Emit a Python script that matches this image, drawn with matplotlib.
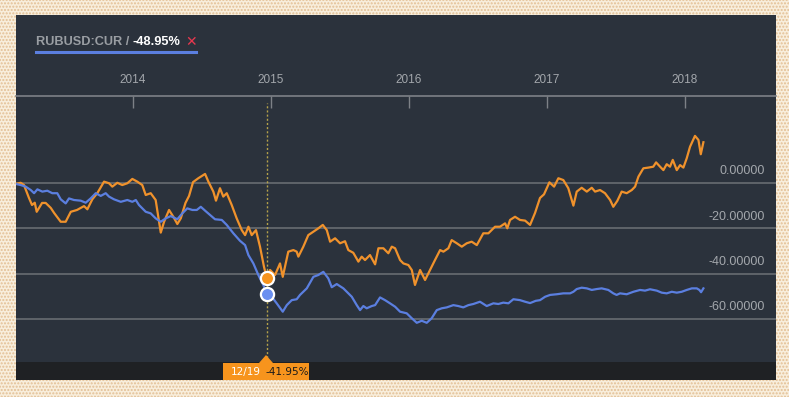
import matplotlib
matplotlib.use('Agg')
import matplotlib.pyplot as plt
from matplotlib.patches import Rectangle, Polygon

# RUBUSD:CUR 对比走势 (% change), x = fractional year
orange_t = [2013.150, 2013.186, 2013.210, 2013.246, 2013.268, 2013.288, 2013.302, 2013.341, 2013.367,
            2013.404, 2013.428, 2013.476, 2013.512, 2013.549, 2013.594, 2013.645, 2013.669, 2013.705,
            2013.741, 2013.790, 2013.826, 2013.850, 2013.886, 2013.922, 2013.959, 2013.995, 2014.031,
            2014.067, 2014.092, 2014.128, 2014.164, 2014.201, 2014.225, 2014.261, 2014.292, 2014.321,
            2014.346, 2014.380, 2014.406, 2014.435, 2014.473, 2014.522, 2014.546, 2014.582, 2014.601,
            2014.630, 2014.654, 2014.679, 2014.715, 2014.751, 2014.788, 2014.812, 2014.836, 2014.860,
            2014.891, 2014.920, 2014.949, 2014.969, 2014.993, 2015.029, 2015.065, 2015.085, 2015.125,
            2015.162, 2015.186, 2015.198, 2015.234, 2015.270, 2015.307, 2015.343, 2015.375, 2015.404,
            2015.428, 2015.464, 2015.500, 2015.536, 2015.560, 2015.596, 2015.633, 2015.657, 2015.681,
            2015.717, 2015.754, 2015.778, 2015.814, 2015.850, 2015.875, 2015.899, 2015.935, 2015.959,
            2015.995, 2016.020, 2016.043, 2016.080, 2016.116, 2016.152, 2016.188, 2016.225, 2016.249,
            2016.285, 2016.309, 2016.346, 2016.382, 2016.418, 2016.454, 2016.491, 2016.538, 2016.575,
            2016.623, 2016.659, 2016.696, 2016.712, 2016.732, 2016.768, 2016.804, 2016.841, 2016.877,
            2016.913, 2016.949, 2016.978, 2017.017, 2017.051, 2017.082, 2017.118, 2017.154, 2017.191,
            2017.215, 2017.251, 2017.288, 2017.324, 2017.348, 2017.384, 2017.420, 2017.457, 2017.480,
            2017.509, 2017.541, 2017.577, 2017.614, 2017.638, 2017.662, 2017.698, 2017.734, 2017.770,
            2017.790, 2017.819, 2017.843, 2017.867, 2017.891, 2017.911, 2017.940, 2017.964, 2017.988,
            2018.012, 2018.036, 2018.072, 2018.097, 2018.114, 2018.133]
orange_v = [-0.4, 0.1, -0.9, -6.6, -9.7, -8.7, -12.7, -8.8, -8.8,
            -11.0, -13.2, -17.1, -17.1, -12.7, -11.9, -10.2, -11.6, -7.2,
            -4.5, 0.6, -0.1, -1.6, 0.1, -0.9, -0.1, 1.8, 0.6,
            -0.9, -5.3, -4.5, -7.5, -21.9, -17.1, -11.9, -14.9, -18.1,
            -15.6, -8.8, -5.7, 0.4, 2.1, 4.0, 0.6, -3.8, -7.8,
            -2.3, -6.0, -4.5, -9.7, -15.6, -20.8, -23.0, -19.3, -23.0,
            -20.8, -28.1, -37.0, -41.95, -38.4, -40.6, -35.5, -41.4, -30.3,
            -29.6, -30.3, -32.5, -28.1, -23.0, -21.5, -20.0, -18.5, -20.8,
            -25.9, -24.4, -26.6, -25.7, -29.6, -30.8, -34.7, -32.5, -34.0,
            -31.8, -35.9, -28.8, -28.8, -31.0, -28.1, -28.8, -34.0, -35.5,
            -36.2, -38.4, -45.0, -38.4, -42.8, -38.4, -34.0, -29.6, -30.3,
            -28.8, -25.2, -26.6, -28.1, -26.6, -25.9, -27.4, -22.2, -22.2,
            -19.3, -19.3, -17.8, -20.0, -16.3, -14.9, -16.3, -16.6, -18.5,
            -13.2, -6.6, -5.0, 0.3, -1.6, 2.1, 1.3, -2.3, -10.0,
            -3.8, -2.1, -3.8, -2.1, -3.8, -3.1, -4.5, -7.5, -10.5,
            -7.9, -3.8, -4.5, -3.1, -1.6, 2.8, 6.5, 6.8, 7.2,
            9.1, 7.2, 5.7, 8.3, 7.2, 10.2, 5.7, 7.9, 6.8,
            10.9, 16.0, 20.8, 19.0, 12.7, 18.0]

blue_t = [2013.150, 2013.186, 2013.222, 2013.259, 2013.283, 2013.307, 2013.343, 2013.379, 2013.415,
          2013.451, 2013.476, 2013.512, 2013.536, 2013.572, 2013.621, 2013.657, 2013.693, 2013.730,
          2013.766, 2013.802, 2013.826, 2013.862, 2013.911, 2013.959, 2013.995, 2014.020, 2014.043,
          2014.092, 2014.128, 2014.164, 2014.201, 2014.237, 2014.273, 2014.321, 2014.357, 2014.393,
          2014.430, 2014.462, 2014.491, 2014.522, 2014.558, 2014.594, 2014.643, 2014.679, 2014.727,
          2014.775, 2014.812, 2014.836, 2014.872, 2014.908, 2014.944, 2014.969, 2015.005, 2015.041,
          2015.085, 2015.114, 2015.150, 2015.186, 2015.210, 2015.259, 2015.307, 2015.343, 2015.379,
          2015.415, 2015.440, 2015.476, 2015.524, 2015.585, 2015.621, 2015.645, 2015.669, 2015.693,
          2015.730, 2015.754, 2015.790, 2015.826, 2015.862, 2015.899, 2015.935, 2015.983, 2016.020,
          2016.056, 2016.092, 2016.128, 2016.164, 2016.201, 2016.237, 2016.273, 2016.321, 2016.357,
          2016.393, 2016.430, 2016.466, 2016.514, 2016.563, 2016.611, 2016.647, 2016.683, 2016.720,
          2016.756, 2016.804, 2016.841, 2016.877, 2016.918, 2016.949, 2016.986, 2017.022, 2017.070,
          2017.118, 2017.167, 2017.191, 2017.215, 2017.251, 2017.288, 2017.324, 2017.360, 2017.396,
          2017.444, 2017.480, 2017.504, 2017.529, 2017.577, 2017.626, 2017.674, 2017.710, 2017.746,
          2017.795, 2017.831, 2017.867, 2017.904, 2017.940, 2017.976, 2018.012, 2018.049, 2018.085,
          2018.104, 2018.116, 2018.133]
blue_v = [-0.4, -0.9, -1.6, -3.1, -4.5, -2.8, -3.8, -3.4, -4.5,
          -4.5, -7.2, -9.0, -6.8, -7.5, -7.8, -8.7, -6.8, -4.5,
          -5.7, -4.5, -6.0, -7.2, -8.3, -7.5, -8.3, -7.5, -9.7,
          -12.7, -13.4, -15.6, -17.1, -15.6, -14.6, -16.0, -13.4, -11.2,
          -11.9, -11.9, -10.5, -12.2, -14.1, -16.0, -16.3, -18.5, -22.2,
          -25.5, -27.4, -31.8, -35.5, -40.6, -45.0, -48.95, -50.2, -53.1,
          -56.8, -53.9, -51.7, -51.3, -49.4, -46.5, -41.4, -40.6, -39.2,
          -42.1, -46.0, -44.6, -46.5, -50.2, -53.9, -56.1, -54.3, -55.3,
          -54.3, -53.9, -50.5, -51.7, -53.1, -54.6, -56.8, -57.5, -59.7,
          -61.7, -60.8, -61.7, -59.7, -56.1, -55.3, -54.9, -53.9, -54.3,
          -54.9, -53.9, -53.4, -52.4, -54.3, -53.1, -53.4, -52.8, -53.1,
          -51.3, -51.7, -52.4, -53.0, -52.0, -51.7, -50.2, -49.4, -49.1,
          -48.7, -48.7, -48.0, -46.8, -46.2, -46.5, -47.2, -46.8, -46.5,
          -47.2, -48.7, -49.4, -48.7, -49.1, -48.0, -47.2, -47.5, -46.9,
          -47.5, -48.4, -48.7, -48.0, -48.4, -48.0, -47.2, -46.5, -46.5,
          -47.2, -48.2, -46.5]

year_ticks = [2014, 2015, 2016, 2017, 2018]
y_grid = [0, -20, -40, -60]
hover_t = 2014.969          # 12/19
hover_orange = -41.95
hover_blue = -48.95

W, H = 789, 397
def fx(x):
    return x / W
def fy(y):
    return 1 - y / H

plt.rcParams['font.family'] = ['Liberation Sans', 'DejaVu Sans']

fig = plt.figure(figsize=(7.89, 3.97), dpi=100)
fig.patch.set_facecolor('#f8eedc')
plt.rcParams['hatch.linewidth'] = 1.0
fig.add_artist(Rectangle((0, 0), 1, 1, transform=fig.transFigure, facecolor='none',
                         edgecolor='#e3bf94', hatch='.....', lw=0, zorder=0))

# 深色面板
fig.add_artist(Rectangle((fx(16), fy(380)), fx(760), 365 / H, transform=fig.transFigure,
                         facecolor='#2b323c', edgecolor='none', zorder=1))
fig.add_artist(Rectangle((fx(16), fy(380)), fx(760), 18 / H, transform=fig.transFigure,
                         facecolor='#1f2124', edgecolor='none', zorder=1))

ax = fig.add_axes([fx(16), fy(362), fx(760), 266 / H])
ax.set_facecolor('none')
ax.set_zorder(2)

for v in y_grid:
    ax.axhline(v, color='#686c72', lw=1.2, zorder=1)
    ax.annotate('%.5f' % v, xy=(0.9855, v), xycoords=('axes fraction', 'data'),
                xytext=(0, 8.5), textcoords='offset points', ha='right', va='center',
                color='#a3a7ac', fontsize=9)

ax.plot(orange_t, orange_v, color='#f0922c', lw=1.6, zorder=3)
ax.plot(blue_t, blue_v, color='#5b7fe0', lw=1.6, zorder=3)

ax.axvline(hover_t, ymax=1 - 7 / 266, color='#b5a24a', lw=1, ls=(0, (1.5, 1.5)), zorder=2)
ax.plot([hover_t], [hover_orange], 'o', ms=9.5, mfc='#f7941d', mec='white', mew=1.6, zorder=4)
ax.plot([hover_t], [hover_blue], 'o', ms=9.5, mfc='#6a8ff0', mec='white', mew=1.6, zorder=4)

ax.set_xlim(2013.152, 2018.659)
ax.set_ylim(-79.0, 38.4)
ax.xaxis.set_ticks_position('top')
ax.set_xticks(year_ticks)
ax.set_xticklabels([str(y) for y in year_ticks])
ax.tick_params(axis='x', direction='in', length=8.5, width=1, color='#7d8187',
               labelcolor='#a3a7ac', labelsize=8.5, pad=7)
ax.set_yticks([])
for s in ['left', 'right', 'bottom']:
    ax.spines[s].set_visible(False)
ax.spines['top'].set_color('#7d8187')
ax.spines['top'].set_linewidth(1.2)

# 图例
t1 = fig.text(fx(36), fy(42), 'RUBUSD:CUR / ', color='#9a9ea3', fontsize=9.2, fontweight='bold',
              va='center', ha='left', zorder=5)
t2 = ax.annotate('-48.95%', xy=(1, 0.5), xycoords=t1, color='white', fontsize=9.2,
                 fontweight='bold', va='center', ha='left', annotation_clip=False, zorder=5)
ax.annotate('✕', xy=(1, 0.5), xycoords=t2, xytext=(3.5, 0), textcoords='offset points',
            color='#e8384f', fontsize=10, fontweight='bold', family='DejaVu Sans',
            va='center', ha='left', annotation_clip=False, zorder=5)
fig.add_artist(plt.Line2D([fx(36), fx(196)], [fy(52), fy(52)], transform=fig.transFigure,
                          color='#5b7fe0', lw=2.2, zorder=5))

# 提示框
fig.add_artist(Rectangle((fx(223), fy(380)), fx(86), 17 / H, transform=fig.transFigure,
                         facecolor='#f7941d', edgecolor='none', zorder=5))
fig.add_artist(Polygon([(fx(259), fy(363)), (fx(266), fy(355)), (fx(273), fy(363))],
                       closed=True, transform=fig.transFigure, facecolor='#f7941d',
                       edgecolor='none', zorder=5))
fig.text(fx(231), fy(372), '12/19', color='white', fontsize=7.5, va='center', ha='left',
         family='DejaVu Sans', zorder=6)
fig.text(fx(265), fy(372), '-41.95%', color='#1a1a1a', fontsize=7.5, va='center', ha='left',
         family='DejaVu Sans', zorder=6)

plt.savefig('out.png', dpi=100)
